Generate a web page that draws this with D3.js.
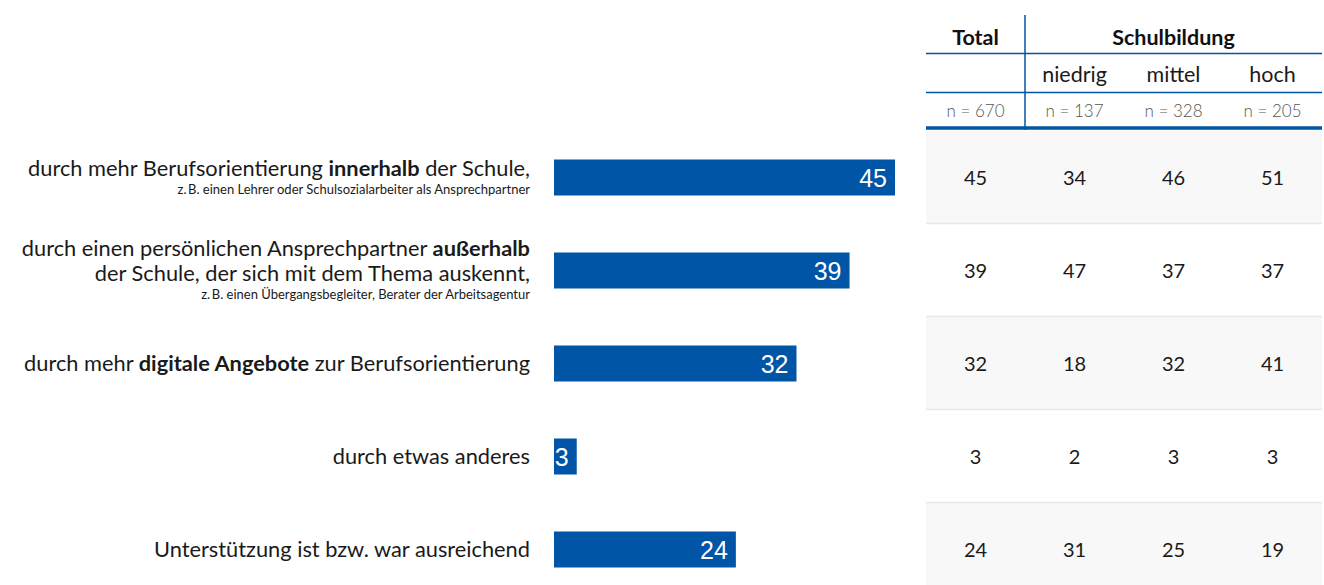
<!DOCTYPE html>
<html>
<head>
<meta charset="utf-8">
<script src="https://cdn.jsdelivr.net/npm/d3@7"></script>
<style>
  body { margin: 0; background: #fff; }
  svg { font-family: Lato, "Open Sans", sans-serif; }
</style>
</head>
<body>
<div id="chart"></div>
<script>
// categories, **..** marks bold words
var labels = [
  ["durch mehr Berufsorientierung **innerhalb** der Schule,"],
  ["durch einen persönlichen Ansprechpartner **außerhalb**", "der Schule, der sich mit dem Thema auskennt,"],
  ["durch mehr **digitale Angebote** zur Berufsorientierung"],
  ["durch etwas anderes"],
  ["Unterstützung ist bzw. war ausreichend"]
];
var subLabels = [
  "z.\u2009B. einen Lehrer oder Schulsozialarbeiter als Ansprechpartner",
  "z.\u2009B. einen Übergangsbegleiter, Berater der Arbeitsagentur",
  "", "", ""
];
var total   = [45, 39, 32, 3, 24];
var niedrig = [34, 47, 18, 2, 31];
var mittel  = [46, 37, 32, 3, 25];
var hoch    = [51, 37, 41, 3, 19];
var colHeaders = ["", "niedrig", "mittel", "hoch"];
var nValues = ["n = 670", "n = 137", "n = 328", "n = 205"];

var W = 1324, H = 585;
var blue = "#0055a6";

var svg = d3.select("#chart").append("svg")
  .attr("width", W)
  .attr("height", H);

var idx = d3.range(labels.length);

var y = d3.scaleBand()
  .domain(idx)
  .range([131, 131 + 93 * idx.length]);

var x = d3.scaleLinear()
  .domain([0, 45])
  .range([554, 895]);

var cols = d3.scaleBand()
  .domain(d3.range(4))
  .range([926, 1322]);

// table backgrounds
var rows = svg.append("g");
rows.selectAll("rect")
  .data(idx)
  .enter().append("rect")
    .attr("x", 926)
    .attr("y", function(d) { return y(d); })
    .attr("width", 1322 - 926)
    .attr("height", y.bandwidth())
    .attr("fill", function(d) { return d % 2 == 0 ? "#f8f8f8" : "#fff"; });

rows.selectAll("line")
  .data(idx.slice(1))
  .enter().append("line")
    .attr("x1", 926).attr("x2", 1322)
    .attr("y1", function(d) { return y(d) - 0.5; })
    .attr("y2", function(d) { return y(d) - 0.5; })
    .attr("stroke", "#e8e8e8")
    .attr("stroke-width", 1.5);

// bars
var barH = 36;
svg.append("g").selectAll("rect")
  .data(idx)
  .enter().append("rect")
    .attr("x", x(0))
    .attr("y", function(d) { return y(d) + y.bandwidth() / 2 - barH / 2; })
    .attr("width", function(d) { return x(total[d]) - x(0); })
    .attr("height", barH)
    .attr("fill", blue);

svg.append("g").selectAll("text")
  .data(idx)
  .enter().append("text")
    .attr("x", function(d) { return x(total[d]) - 8; })
    .attr("y", function(d) { return y(d) + y.bandwidth() / 2; })
    .attr("dy", "0.36em")
    .attr("text-anchor", "end")
    .attr("fill", "#fff")
    .style("font-family", "'Liberation Sans', Arial, sans-serif")
    .style("font-size", "25px")
    .text(function(d) { return total[d]; });

// category labels
var lab = svg.append("g")
  .attr("text-anchor", "end")
  .attr("fill", "#1a1a1a");

idx.forEach(function(i) {
  var lines = labels[i];
  var hasSub = subLabels[i] != "";
  var lineH = 25, subH = 19;
  var blockH = lines.length * lineH + (hasSub ? subH : 0);
  var cy = y(i) + y.bandwidth() / 2;
  var top = cy - blockH / 2;
  lines.forEach(function(line, j) {
    var t = lab.append("text")
      .attr("x", 530)
      .attr("y", top + j * lineH + lineH / 2)
      .attr("dy", "0.36em")
      .style("font-size", "21.8px");
    line.split("**").forEach(function(part, k) {
      if (part == "") return;
      t.append("tspan")
        .attr("font-weight", k % 2 == 1 ? "bold" : "normal")
        .text(part);
    });
  });
  if (hasSub) {
    lab.append("text")
      .attr("x", 530)
      .attr("y", top + lines.length * lineH + subH / 2 - 1)
      .attr("dy", "0.36em")
      .style("font-size", "13px")
      .text(subLabels[i]);
  }
});

// table values
var tableData = [total, niedrig, mittel, hoch];
var cells = svg.append("g")
  .attr("text-anchor", "middle")
  .attr("fill", "#1a1a1a")
  .style("font-size", "20px");

tableData.forEach(function(series, c) {
  cells.selectAll(null)
    .data(idx)
    .enter().append("text")
      .attr("x", cols(c) + cols.bandwidth() / 2)
      .attr("y", function(d) { return y(d) + y.bandwidth() / 2; })
      .attr("dy", "0.36em")
      .text(function(d) { return series[d]; });
});

// table header
var head = svg.append("g").attr("text-anchor", "middle");

head.append("text")
  .attr("x", cols(0) + cols.bandwidth() / 2)
  .attr("y", 37).attr("dy", "0.36em")
  .attr("font-weight", "bold")
  .style("font-size", "21.5px")
  .attr("fill", "#111")
  .text("Total");

head.append("text")
  .attr("x", (cols(1) + 1322) / 2)
  .attr("y", 37).attr("dy", "0.36em")
  .attr("font-weight", "bold")
  .style("font-size", "21.5px")
  .attr("fill", "#111")
  .text("Schulbildung");

head.selectAll(".ch")
  .data(colHeaders)
  .enter().append("text")
    .attr("class", "ch")
    .attr("x", function(d, i) { return cols(i) + cols.bandwidth() / 2; })
    .attr("y", 74).attr("dy", "0.36em")
    .style("font-size", "21.5px")
    .attr("fill", "#1a1a1a")
    .text(function(d) { return d; });

head.selectAll(".nv")
  .data(nValues)
  .enter().append("text")
    .attr("class", "nv")
    .attr("x", function(d, i) { return cols(i) + cols.bandwidth() / 2; })
    .attr("y", 111).attr("dy", "0.36em")
    .attr("font-weight", 300)
    .style("font-size", "17px")
    .attr("fill", "#555")
    .text(function(d) { return d; });

head.append("line")
  .attr("x1", 926).attr("x2", 1322)
  .attr("y1", 53.5).attr("y2", 53.5)
  .attr("stroke", blue).attr("stroke-width", 1.5);
head.append("line")
  .attr("x1", 926).attr("x2", 1322)
  .attr("y1", 92.5).attr("y2", 92.5)
  .attr("stroke", blue).attr("stroke-width", 1.5);
head.append("line")
  .attr("x1", 926).attr("x2", 1322)
  .attr("y1", 128).attr("y2", 128)
  .attr("stroke", blue).attr("stroke-width", 3.5);
head.append("line")
  .attr("x1", cols(1)).attr("x2", cols(1))
  .attr("y1", 15).attr("y2", 130)
  .attr("stroke", blue).attr("stroke-width", 1.5);
</script>
</body>
</html>
